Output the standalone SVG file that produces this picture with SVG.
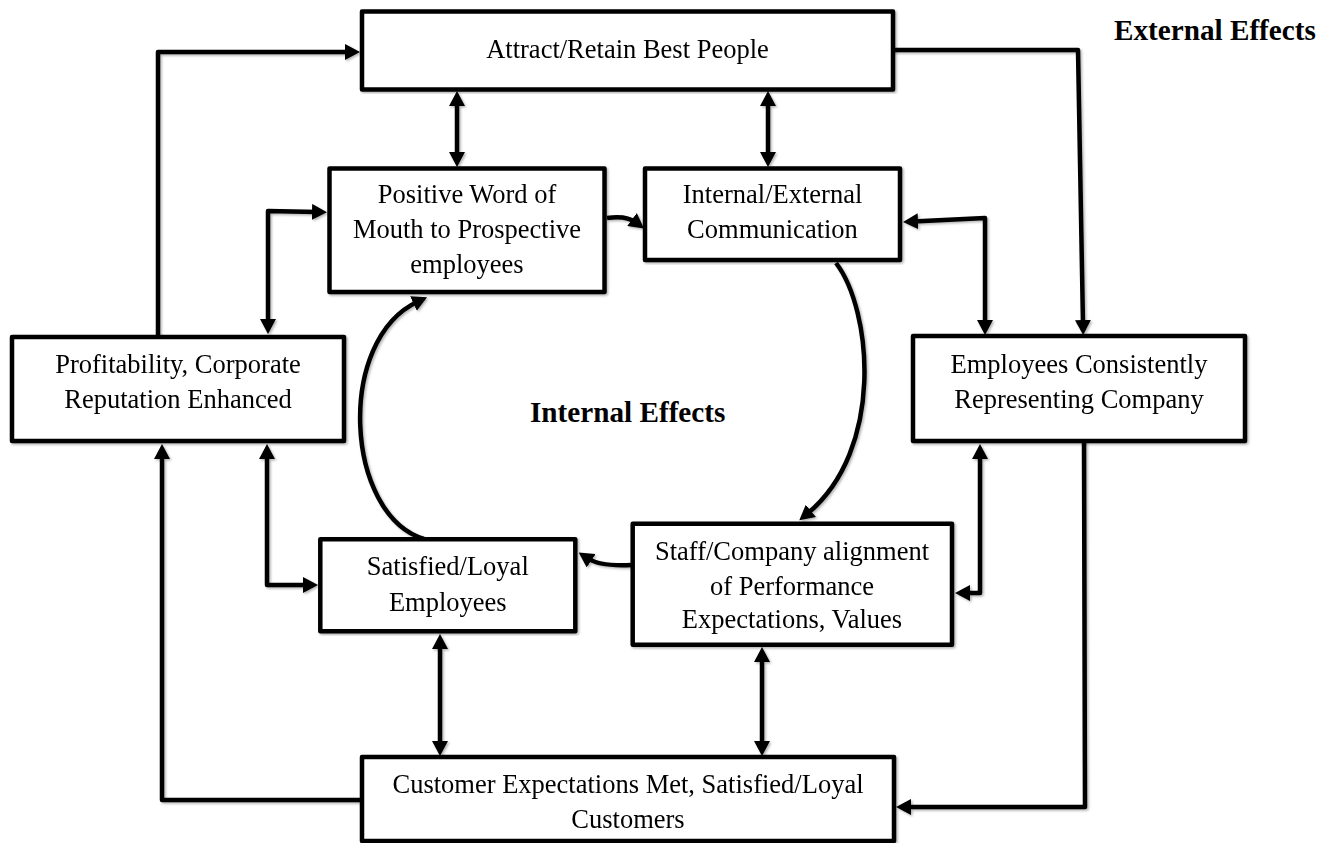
<svg xmlns="http://www.w3.org/2000/svg" width="1338" height="843" viewBox="0 0 1338 843">
<defs>
<style>
.box{fill:#fff;stroke:#000;stroke-width:4.5;stroke-linejoin:round}
.lbl{font-family:"Liberation Serif","Times New Roman",serif;font-size:26.5px;fill:#000;text-anchor:middle}
.ttl{font-family:"Liberation Serif","Times New Roman",serif;font-size:29.2px;font-weight:bold;fill:#000}
.c{fill:none;stroke:#000;stroke-width:4.5;stroke-linejoin:round}
.a2{marker-start:url(#ah);marker-end:url(#ah)}
.a1{marker-end:url(#ah)}
</style>
<marker id="ah" markerUnits="userSpaceOnUse" markerWidth="15" markerHeight="16" viewBox="0 0 15 16" refX="5" refY="8" orient="auto-start-reverse">
<path d="M0,0 L15,8 L0,16 z" fill="#000"/>
</marker>
<filter id="sh" x="-5%" y="-5%" width="110%" height="110%">
<feDropShadow dx="1.5" dy="1.5" stdDeviation="1.2" flood-color="#000" flood-opacity="0.3"/>
</filter>
</defs>
<rect width="1338" height="843" fill="#fff"/>

<g id="connectors" filter="url(#sh)">
<path class="c a2" d="M457 101 L457 157"/>
<path class="c a2" d="M768 101 L768 157"/>
<path class="c a1" d="M158 339 L158 52 L350 52"/>
<path class="c a2" d="M268 324 L268 211 L317 212"/>
<path class="c a1" d="M607 218 C620 216 630 218 636 222.5"/>
<path class="c a1" d="M893 50 L1078 50 L1083 325"/>
<path class="c a2" d="M913 221.5 L985 218 L985 325"/>
<path class="c a1" d="M836 263 C872 310 885 450 807 514"/>
<path class="c a1" d="M631 565 C610 566 596 564 587 558"/>
<path class="c a1" d="M424 539 C345 515 335 340 418 301.5"/>
<path class="c a2" d="M267 454 L267 585 L308 585"/>
<path class="c a1" d="M362 800 L162 800 L162 454"/>
<path class="c a2" d="M440 644 L440 746"/>
<path class="c a2" d="M762 657 L762 746"/>
<path class="c a2" d="M980 454 L980 593 L965 593"/>
<path class="c a1" d="M1084 441 L1085 807 L906 807"/>
</g>

<g id="attract" filter="url(#sh)">
<rect class="box" x="362" y="11.5" width="531" height="78"/>
<text class="lbl" x="627.5" y="58">Attract/Retain Best People</text>
</g>

<g id="word-of-mouth" filter="url(#sh)">
<rect class="box" x="329.5" y="168.5" width="275" height="123.5"/>
<text class="lbl" x="467" y="203.3">Positive Word of</text>
<text class="lbl" x="467" y="238.3">Mouth to Prospective</text>
<text class="lbl" x="467" y="273.3">employees</text>
</g>

<g id="communication" filter="url(#sh)">
<rect class="box" x="645" y="168.5" width="255" height="91.5"/>
<text class="lbl" x="772.5" y="203.3">Internal/External</text>
<text class="lbl" x="772.5" y="238.3">Communication</text>
</g>

<g id="profitability" filter="url(#sh)">
<rect class="box" x="12" y="337" width="332" height="104"/>
<text class="lbl" x="178" y="373">Profitability, Corporate</text>
<text class="lbl" x="178" y="408">Reputation Enhanced</text>
</g>

<g id="representing" filter="url(#sh)">
<rect class="box" x="913" y="336" width="332" height="105"/>
<text class="lbl" x="1079" y="372.7">Employees Consistently</text>
<text class="lbl" x="1079" y="407.7">Representing Company</text>
</g>

<g id="satisfied-employees" filter="url(#sh)">
<rect class="box" x="320.3" y="539.3" width="255" height="92"/>
<text class="lbl" x="447.8" y="575">Satisfied/Loyal</text>
<text class="lbl" x="447.8" y="610.7">Employees</text>
</g>

<g id="alignment" filter="url(#sh)">
<rect class="box" x="632.7" y="523.7" width="319.3" height="121"/>
<text class="lbl" x="792" y="560">Staff/Company alignment</text>
<text class="lbl" x="792" y="595">of Performance</text>
<text class="lbl" x="792" y="628.3">Expectations, Values</text>
</g>

<g id="customers" filter="url(#sh)">
<rect class="box" x="362" y="757" width="532" height="84"/>
<text class="lbl" x="628" y="793">Customer Expectations Met, Satisfied/Loyal</text>
<text class="lbl" x="628" y="828">Customers</text>
</g>

<g id="labels">
<text class="ttl" x="1114" y="40">External Effects</text>
<text class="ttl" x="530" y="422">Internal Effects</text>
</g>
</svg>
